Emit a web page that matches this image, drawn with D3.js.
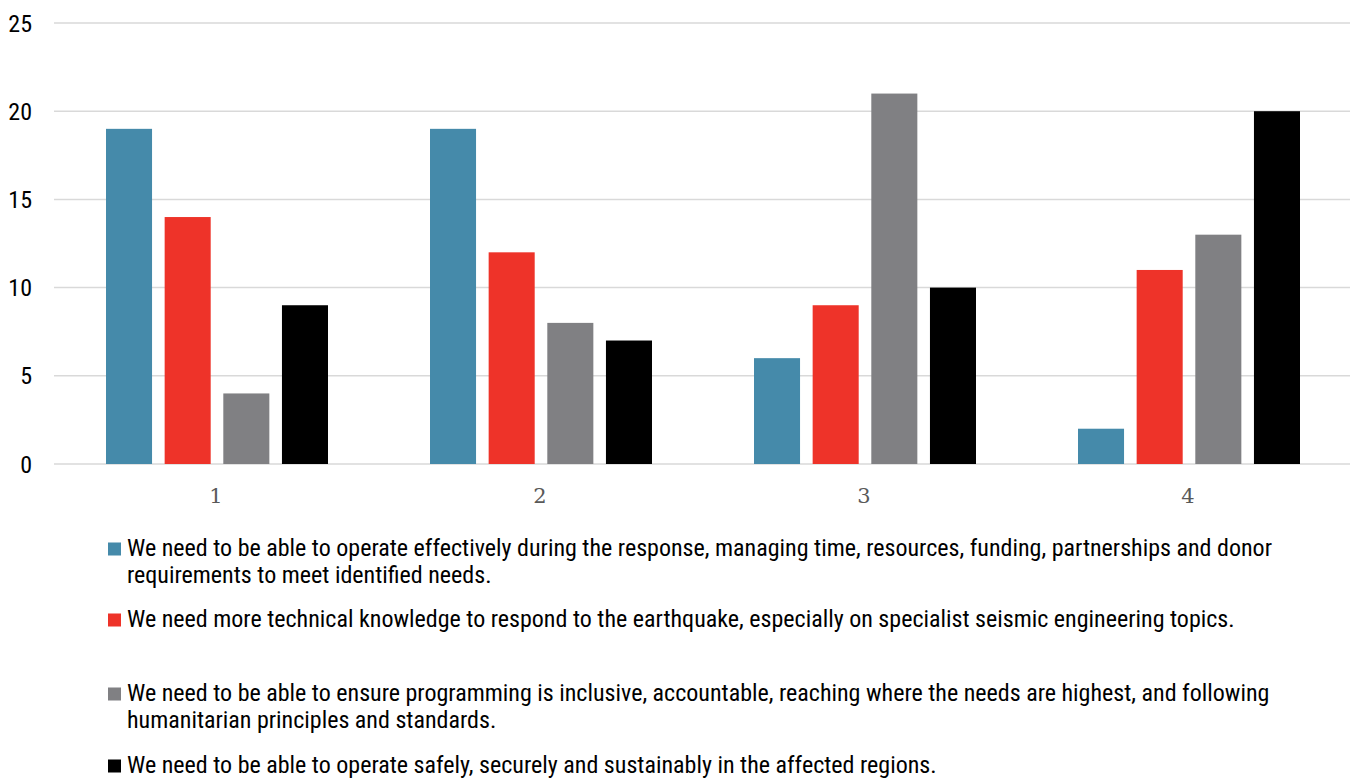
<!DOCTYPE html>
<html><head><meta charset="utf-8">
<script src="https://cdn.jsdelivr.net/npm/d3@7"></script>
<style>
body{margin:0;background:#fff;}
svg{display:block;}
.cond{font-family:"Roboto Condensed","Liberation Sans Narrow","Arial Narrow",Roboto,sans-serif;}
</style></head>
<body>
<svg id="chart" width="1353" height="778"></svg>
<script>
const categories = ["1","2","3","4"];
const seriesNames = [
  ["We need to be able to operate effectively during the response, managing time, resources, funding, partnerships and donor","requirements to meet identified needs."],
  ["We need more technical knowledge to respond to the earthquake, especially on specialist seismic engineering topics."],
  ["We need to be able to ensure programming is inclusive, accountable, reaching where the needs are highest, and following","humanitarian principles and standards."],
  ["We need to be able to operate safely, securely and sustainably in the affected regions."]
];
const operateEffectively = [19,19,6,2];
const technicalKnowledge = [14,12,9,11];
const inclusiveProgramming = [4,8,21,13];
const operateSafely = [9,7,10,20];
const yTicks = [0,5,10,15,20,25];
const colors = ["#458aaa","#ee3329","#808083","#000000"];

(function(){
const series = [operateEffectively, technicalKnowledge, inclusiveProgramming, operateSafely];
const svg = d3.select("#chart");
const mLeft = 54, mRight = 1350, mTop = 23, mBottom = 464;

const x = d3.scaleBand().domain(categories).range([mLeft,mRight]).paddingInner(0).paddingOuter(0);
const x1 = d3.scaleBand().domain(d3.range(4)).range([52,274]).paddingInner(0.215).paddingOuter(0);
const y = d3.scaleLinear().domain([0,25]).range([mBottom,mTop]);

svg.append("g").selectAll("line").data(yTicks).join("line")
  .attr("x1",mLeft).attr("x2",mRight)
  .attr("y1",d=>y(d)).attr("y2",d=>y(d))
  .attr("stroke","#d9d9d9").attr("stroke-width",1.5);

svg.append("g").attr("class","cond").selectAll("text").data(yTicks).join("text")
  .attr("x",32).attr("y",d=>y(d)).attr("dy","0.36em")
  .attr("text-anchor","end").attr("font-size",24).attr("fill","#000")
  .text(d=>d);

const g = svg.append("g");
series.forEach((vals,si)=>{
  g.append("g").selectAll("rect").data(vals).join("rect")
    .attr("x",(d,i)=>x(categories[i])+x1(si))
    .attr("width",x1.bandwidth())
    .attr("y",d=>y(d))
    .attr("height",d=>mBottom-y(d))
    .attr("fill",colors[si]);
});

svg.append("g").selectAll("text").data(categories).join("text")
  .attr("x",d=>x(d)+x.bandwidth()/2).attr("y",503)
  .attr("text-anchor","middle").attr("font-family","'DejaVu Serif','Liberation Serif',serif")
  .attr("font-size",21).attr("fill","#595959")
  .text(d=>d);

const legendY = [549,620,694,766];
const leg = svg.append("g").attr("class","cond");
seriesNames.forEach((lines,i)=>{
  leg.append("rect").attr("x",108).attr("y",legendY[i]-6.5).attr("width",13).attr("height",13).attr("fill",colors[i]);
  lines.forEach((ln,j)=>{
    leg.append("text").attr("x",127).attr("y",legendY[i]+j*27).attr("dy","0.3em")
      .attr("font-size",24).attr("fill","#000").text(ln);
  });
});
})();
</script>
</body></html>
